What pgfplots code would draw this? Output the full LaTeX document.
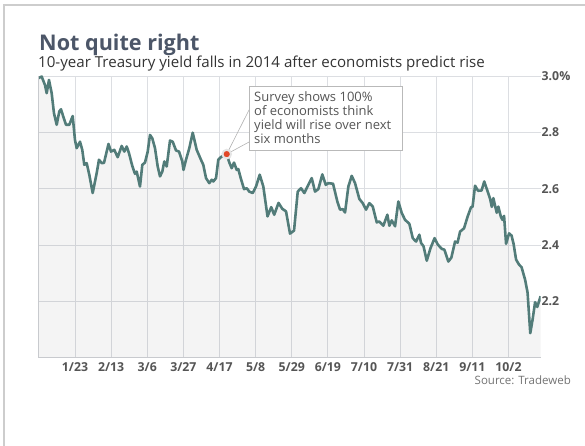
\documentclass[border=0pt]{standalone}
\usepackage{fontspec}
\setmainfont{Open Sans}
\usepackage{pgfplots}
\usepackage{pgfplotstable}
\pgfplotsset{compat=1.18}
\definecolor{linec}{RGB}{82,124,121}
\definecolor{titlec}{RGB}{76,86,104}
\definecolor{gridc}{RGB}{220,222,226}
\definecolor{axc}{RGB}{200,202,206}
\definecolor{labc}{RGB}{85,85,85}
\definecolor{dotc}{RGB}{226,72,40}
\definecolor{framec}{RGB}{205,205,205}

\pgfplotstableread{
day yield
1.66 2.992
3.64 2.998
5.56 2.968
6.55 2.939
7.88 2.986
9.45 2.939
10.79 2.868
12.36 2.827
13.87 2.874
14.86 2.882
16.20 2.856
17.77 2.827
19.69 2.827
21.66 2.858
23.00 2.773
23.99 2.744
25.91 2.767
27.24 2.738
28.41 2.685
29.80 2.691
31.31 2.650
33.29 2.585
35.62 2.656
36.95 2.703
38.52 2.691
39.86 2.692
42.48 2.759
43.93 2.732
45.85 2.738
47.83 2.712
50.15 2.752
51.66 2.732
53.06 2.750
54.40 2.726
56.31 2.681
57.88 2.653
58.87 2.661
60.79 2.608
62.13 2.685
63.70 2.693
65.27 2.732
66.60 2.791
67.94 2.779
69.51 2.744
71.08 2.679
72.42 2.644
73.76 2.661
74.92 2.697
76.31 2.679
78.23 2.771
79.80 2.767
81.72 2.736
83.47 2.732
85.38 2.697
86.08 2.667
87.53 2.703
89.45 2.744
91.43 2.799
93.76 2.738
96.08 2.705
97.59 2.685
99.16 2.638
101.08 2.620
102.48 2.632
103.41 2.626
104.98 2.638
106.31 2.703
107.71 2.712
111.20 2.723
112.71 2.693
114.10 2.673
115.44 2.693
117.01 2.667
117.94 2.670
119.34 2.638
121.26 2.599
122.83 2.602
124.34 2.590
126.31 2.585
128.23 2.608
130.38 2.650
132.48 2.608
134.92 2.502
137.07 2.535
138.81 2.508
141.31 2.550
143.52 2.529
145.67 2.520
148.00 2.441
150.33 2.452
152.48 2.590
154.40 2.602
156.31 2.585
158.64 2.614
160.62 2.638
162.53 2.590
164.45 2.599
166.78 2.651
168.76 2.614
170.27 2.620
173.00 2.618
175.50 2.555
177.07 2.526
178.64 2.528
179.98 2.516
181.90 2.608
183.87 2.646
185.79 2.620
188.29 2.564
190.27 2.549
192.19 2.526
194.10 2.549
196.08 2.537
198.41 2.481
199.92 2.484
202.24 2.469
204.57 2.508
205.73 2.469
207.13 2.488
209.05 2.467
210.97 2.555
212.94 2.514
214.86 2.490
217.36 2.476
219.34 2.425
221.26 2.413
223.17 2.437
224.16 2.408
225.62 2.396
227.48 2.345
229.57 2.388
232.01 2.425
233.93 2.402
236.20 2.387
237.71 2.384
240.04 2.342
241.78 2.356
243.93 2.413
245.38 2.409
246.84 2.448
249.16 2.460
251.20 2.501
253.23 2.535
254.10 2.536
255.56 2.611
257.30 2.593
259.34 2.594
260.91 2.626
262.94 2.589
264.28 2.565
265.27 2.536
266.20 2.567
267.19 2.540
268.17 2.515
269.10 2.537
270.50 2.502
271.43 2.490
272.42 2.504
273.58 2.405
275.33 2.442
276.78 2.434
277.94 2.405
279.40 2.349
281.14 2.331
282.59 2.322
284.63 2.278
286.08 2.232
287.65 2.088
288.99 2.136
290.44 2.198
291.72 2.181
293.64 2.219
}\yields

\begin{document}
\begin{tikzpicture}
\useasboundingbox (0pt,0pt) rectangle (585pt,446pt);
\draw[framec, line width=1.2pt] (4pt,0pt) -- (4pt,441pt) -- (585pt,441pt);
\node[anchor=base west, font=\fontsize{21.6}{25}\selectfont\bfseries, text=titlec, inner sep=0pt] at (39pt,395pt) {Not quite right};
\node[anchor=base west, font=\fontsize{15.1}{18}\selectfont, text=black!80, inner sep=0pt] at (38pt,378.5pt) {10-year Treasury yield falls in 2014 after economists predict rise};
\begin{axis}[at={(38pt,88pt)}, anchor=south west,
  width=502.5pt, height=282pt, scale only axis,
  xmin=1.5, xmax=293.6, ymin=2.0, ymax=3.0,
  axis line style={draw=none},
  xtick={23,44,65,86,107,128,149,170,191,212,233,254,275},
  xticklabels={1/23,2/13,3/6,3/27,4/17,5/8,5/29,6/19,7/10,7/31,8/21,9/11,10/2},
  ytick={2.2,2.4,2.6,2.8,3.0},
  yticklabels={2.2,2.4,2.6,2.8,3.0\%},
  yticklabel pos=right,
  grid=major, major grid style={gridc, line width=0.8pt},
  tick style={draw=none},
  ticklabel style={font=\fontsize{12.3}{14}\selectfont\bfseries, text=labc},
  yticklabel style={inner sep=1pt},
  xticklabel style={yshift=-1pt},
]
\addplot[fill=black, fill opacity=0.045, draw=none] table[x=day,y=yield]{\yields} \closedcycle;
\addplot[linec, line width=2.6pt, line join=round] table[x=day,y=yield]{\yields};
\draw[gray!60, line width=0.6pt] (axis cs:111.2,2.723) -- (axis cs:124.2,2.880);
\draw[gray!60, line width=0.6pt] (axis cs:111.2,2.723) -- (axis cs:124.2,2.766);
\addplot[only marks, mark=*, mark size=4.3pt, color=dotc, mark options={draw=black!10, line width=2pt}] coordinates {(111.2,2.723)};
\end{axis}
\draw[axc, line width=1pt] (38pt,370pt) -- (38pt,88pt) -- (540.5pt,88pt);
\draw[gray!55, fill=white, line width=0.7pt] (249pt,360pt) rectangle (402pt,296pt);
\node[anchor=base west, inner sep=0pt, font=\fontsize{13}{14}\selectfont, text=labc] at (254pt,344pt) {Survey shows 100\%};
\node[anchor=base west, inner sep=0pt, font=\fontsize{13}{14}\selectfont, text=labc] at (254pt,330pt) {of economists think};
\node[anchor=base west, inner sep=0pt, font=\fontsize{13}{14}\selectfont, text=labc] at (254pt,316pt) {yield will rise over next};
\node[anchor=base west, inner sep=0pt, font=\fontsize{13}{14}\selectfont, text=labc] at (254pt,302pt) {six months};
\node[anchor=base east, inner sep=0pt, font=\fontsize{11.5}{13}\selectfont, text=black!55] at (571pt,61pt) {Source: Tradeweb};
\end{tikzpicture}
\end{document}
